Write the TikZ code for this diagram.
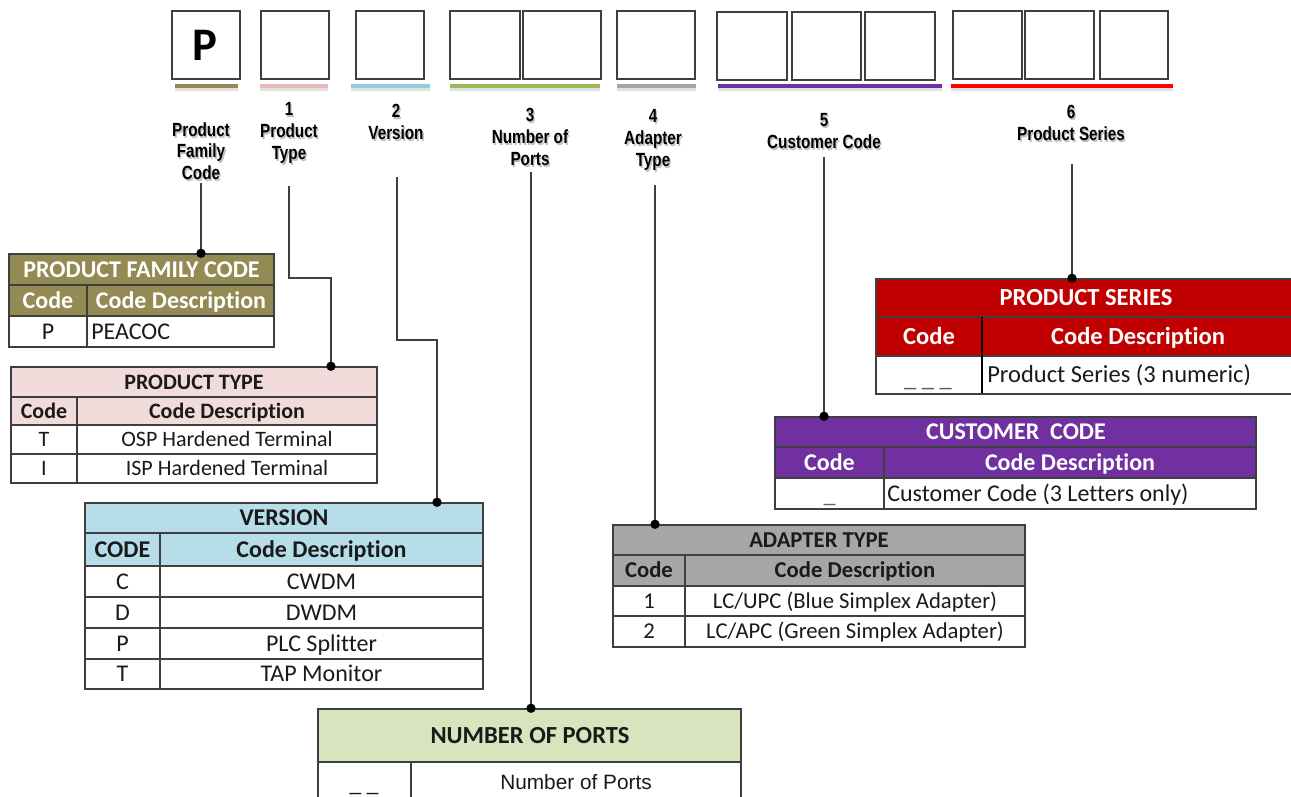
\documentclass[tikz,border=0pt]{standalone}
\usepackage{fontspec}
\setmainfont{Carlito}
\newfontfamily\tabfont[Ligatures=NoCommon]{Carlito}
\newfontfamily\labfont[FakeStretch=0.8]{Liberation Sans Bold}
\newfontfamily\arialfont{Liberation Sans}
\usetikzlibrary{fit}
\definecolor{hOlive}{HTML}{948A54}
\definecolor{hPink}{HTML}{F2DCDB}
\definecolor{hBlue}{HTML}{B7DEE8}
\definecolor{hGreen}{HTML}{D7E4BD}
\definecolor{hGrey}{HTML}{A6A6A6}
\definecolor{hPurple}{HTML}{7030A0}
\definecolor{hRed}{HTML}{C00000}
\definecolor{lOlive}{HTML}{948A54}
\definecolor{lPink}{HTML}{E6B9B8}
\definecolor{lBlue}{HTML}{92CDDC}
\definecolor{lGreen}{HTML}{9BBB59}
\definecolor{lGrey}{HTML}{A5A5A5}
\definecolor{lPurple}{HTML}{7030A0}
\definecolor{lRed}{HTML}{FF0000}
\definecolor{txt}{HTML}{1A1A1A}
\definecolor{frameC}{HTML}{3F3F3F}
\tikzset{
  sq/.style={draw=frameC, line width=1.5pt, inner sep=0pt},
  uline/.style={line width=3.2pt},
  ushadow/.style={line width=3.2pt, draw=black, opacity=0.12},
  lab/.style={font=\labfont\fontsize{14.3}{16.2}\selectfont, align=center, inner sep=0pt, text=black},
  labsh/.style={lab, text=black!45, opacity=0.55, xshift=1pt, yshift=-1.5pt},
  conn/.style={draw=frameC, line width=1.1pt},
  dotc/.style={fill=black},
  tframe/.style={draw=frameC, line width=1.1pt, inner sep=0pt},
  tline/.style={draw=frameC, line width=0.9pt},
  tb/.style 2 args={font=\tabfont\fontsize{#1}{#1}\selectfont, inner sep=0pt, text height=#2, text depth=0pt, text=txt},
  tbb/.style 2 args={tb={#1}{#2}, font=\tabfont\fontsize{#1}{#1}\selectfont\bfseries},
}
\begin{document}
\begin{tikzpicture}[x=0.75pt,y=-0.75pt]
\useasboundingbox (0,0) rectangle (1291,796);
\fill[white] (0,0) rectangle (1291,796);

% ---------- top code boxes ----------
\node[sq, fit={(172,11)(240,79)}] (c0) {};
\node[font=\tabfont\fontsize{35}{35}\selectfont\bfseries, inner sep=0pt] (cP) at (205,45) {P};
\node[sq, fit={(261,11)(329,79)}] (c1) {};
\node[sq, fit={(356,11)(424,79)}] (c2) {};
\node[sq, fit={(450,11)(520,79)}] (c3a) {};
\node[sq, fit={(523,11)(601,79)}] (c3b) {};
\node[sq, fit={(617,11)(695,79)}] (c4) {};
\node[sq, fit={(717,12)(787,80)}] (c5a) {};
\node[sq, fit={(792,12)(861,80)}] (c5b) {};
\node[sq, fit={(865,12)(935,80)}] (c5c) {};
\node[sq, fit={(953,11)(1022,79)}] (c6a) {};
\node[sq, fit={(1025,11)(1094,79)}] (c6b) {};
\node[sq, fit={(1100,11)(1168,79)}] (c6c) {};

% ---------- coloured underlines ----------
\foreach \a/\b/\c in {175/238/lOlive,260/328/lPink,351/430/lBlue,450/600/lGreen,617/696/lGrey,718/942/lPurple,951/1173/lRed}{
  \draw[ushadow] (\a,89) -- (\b,89);
  \draw[uline, draw=\c] (\a,86) -- (\b,86);
}

% ---------- labels ----------
\foreach \n/\x/\y/\t in {L0/201/151/{Product\\Family\\Code},
                         L1/289/133/{1\\Product\\Type},
                         L2/396/122/{2\\Version},
                         L3/530/137/{3\\Number of\\Ports},
                         L4/653/140/{4\\Adapter\\Type},
                         L5/824/131/{5\\Customer Code},
                         L6/1071/123/{6\\Product Series}}{
  \node[labsh] at (\x,\y) {\t};
  \node[lab] (\n) at (\x,\y) {\t};
}

% ---------- PRODUCT FAMILY CODE ----------
\fill[hOlive] (9,254) rectangle (274,316);
\draw[tline] (9,285) -- (274,285) (9,316) -- (274,316) (87,285) -- (87,347);
\node[tframe, fit={(9,254)(274,347)}] (pfc) {};
\node[tbb={18}{11.6pt}, text=white] at (141.5,269.5) {PRODUCT FAMILY CODE};
\node[tbb={18}{11.6pt}, text=white] at (48,300.5) {Code};
\node[tbb={18}{11.6pt}, text=white] at (181,300.5) {Code Description};
\node[tb={18}{11.6pt}] at (48,331.5) {P};
\node[tb={18}{11.6pt}, anchor=west] at (91,331.5) {PEACOC};

% ---------- PRODUCT TYPE ----------
\fill[hPink] (11,367) rectangle (377,425);
\draw[tline] (11,397) -- (377,397) (11,425) -- (377,425) (11,454) -- (377,454) (77,397) -- (77,483);
\node[tframe, fit={(11,367)(377,483)}] (pt) {};
\node[tbb={16.5}{10.6pt}] at (194,382) {PRODUCT TYPE};
\node[tbb={16.5}{10.6pt}] at (44,411) {Code};
\node[tbb={16.5}{10.6pt}] at (227,411) {Code Description};
\node[tb={16.5}{10.6pt}] at (44,439.5) {T};
\node[tb={16.5}{10.6pt}] at (227,439.5) {OSP Hardened Terminal};
\node[tb={16.5}{10.6pt}] at (44,468.5) {I};
\node[tb={16.5}{10.6pt}] at (227,468.5) {ISP Hardened Terminal};

% ---------- VERSION ----------
\fill[hBlue] (85,503) rectangle (483,566);
\draw[tline] (85,533) -- (483,533) (85,566) -- (483,566) (85,597) -- (483,597)
             (85,628) -- (483,628) (85,659) -- (483,659) (160,533) -- (160,689);
\node[tframe, fit={(85,503)(483,689)}] (ver) {};
\node[tbb={18}{11.6pt}] at (284,518) {VERSION};
\node[tbb={18}{11.6pt}] at (122.5,549.5) {CODE};
\node[tbb={18}{11.6pt}] at (321.5,549.5) {Code Description};
\foreach \y/\a/\b in {581.5/C/CWDM,612.5/D/DWDM,643.5/P/PLC Splitter,674/T/TAP Monitor}{
  \node[tb={18}{11.6pt}] at (122.5,\y) {\a};
  \node[tb={18}{11.6pt}] at (321.5,\y) {\b};
}

% ---------- NUMBER OF PORTS ----------
\fill[hGreen] (318,709) rectangle (741,762);
\draw[tline] (318,762) -- (741,762) (411,762) -- (411,830);
\node[tframe, fit={(318,709)(741,830)}] (nop) {};
\node[tbb={18.4}{11.9pt}] at (530,736) {NUMBER OF PORTS};
\node[font=\arialfont\fontsize{15.6}{15.6}\selectfont, inner sep=0pt, text height=11.2pt, text depth=0pt, text=txt] at (576,782) {Number of Ports};
\node[tb={18}{11.6pt}, anchor=base] at (364,791) {\_ \_};

% ---------- ADAPTER TYPE ----------
\fill[hGrey] (613,525) rectangle (1025,586);
\draw[tline] (613,555) -- (1025,555) (613,586) -- (1025,586) (613,616) -- (1025,616) (685,555) -- (685,647);
\node[tframe, fit={(613,525)(1025,647)}] (ad) {};
\node[tbb={17}{10.9pt}] at (819,540) {ADAPTER TYPE};
\node[tbb={17}{10.9pt}] at (649,570.5) {Code};
\node[tbb={17}{10.9pt}] at (855,570.5) {Code Description};
\node[tb={17}{10.9pt}] at (649,601) {1};
\node[tb={17}{10.9pt}] at (855,601) {LC/UPC (Blue Simplex Adapter)};
\node[tb={17}{10.9pt}] at (649,631.5) {2};
\node[tb={17}{10.9pt}] at (855,631.5) {LC/APC (Green Simplex Adapter)};

% ---------- CUSTOMER CODE ----------
\fill[hPurple] (775,417) rectangle (1256,478);
\draw[tline] (775,447) -- (1256,447) (775,478) -- (1256,478) (884,447) -- (884,509);
\node[tframe, fit={(775,417)(1256,509)}] (cc) {};
\node[tbb={18}{11.6pt}, text=white] at (1016,432) {CUSTOMER\ \ CODE};
\node[tbb={18}{11.6pt}, text=white] at (829.5,462.5) {Code};
\node[tbb={18}{11.6pt}, text=white] at (1070,462.5) {Code Description};
\node[tb={18}{11.6pt}, anchor=base, text=black!60] at (829.5,502) {\_};
\node[tb={18}{11.6pt}, anchor=west] at (887,493.5) {Customer Code (3 Letters only)};

% ---------- PRODUCT SERIES ----------
\fill[hRed] (876,279) rectangle (1295,356);
\draw[tline] (876,317) -- (1295,317) (876,356) -- (1295,356);
\draw[tline, line width=1.4pt, draw=black] (982,317) -- (982,394);
\node[tframe, fit={(876,279)(1295,394)}] (ps) {};
\node[tbb={18.4}{11.9pt}, text=white] at (1086,298) {PRODUCT SERIES};
\node[tbb={18.4}{11.9pt}, text=white] at (929,336.5) {Code};
\node[tbb={18.4}{11.9pt}, text=white] at (1138,336.5) {Code Description};
\node[tb={18.4}{11.9pt}, anchor=base, text=black!65] at (928,386) {\_ \_ \_};
\node[tb={18.4}{11.9pt}, anchor=west] at (987,375) {Product Series (3 numeric)};

% ---------- connectors ----------
\coordinate (s0) at (201,183);
\coordinate (s1) at (289,186);
\coordinate (b1) at (331,278);
\coordinate (s2) at (397,177);
\coordinate (b2) at (437,340);
\coordinate (s3) at (531,172);
\coordinate (s4) at (655,185);
\coordinate (s5) at (824,157);
\coordinate (s6) at (1072,164);

\draw[conn] (s0) -- (s0 |- pfc.north);
\fill[dotc] (s0 |- pfc.north) circle[radius=3.5pt];
\draw[conn] (s1) |- (b1) -- (b1 |- pt.north);
\fill[dotc] (b1 |- pt.north) circle[radius=3.5pt];
\draw[conn] (s2) |- (b2) -- (b2 |- ver.north);
\fill[dotc] (b2 |- ver.north) circle[radius=3.5pt];
\draw[conn] (s3) -- (s3 |- nop.north);
\fill[dotc] (s3 |- nop.north) circle[radius=3.5pt];
\draw[conn] (s4) -- (s4 |- ad.north);
\fill[dotc] (s4 |- ad.north) circle[radius=3.5pt];
\draw[conn] (s5) -- (s5 |- cc.north);
\fill[dotc] (s5 |- cc.north) circle[radius=3.5pt];
\draw[conn] (s6) -- (s6 |- ps.north);
\fill[dotc] (s6 |- ps.north) circle[radius=3.5pt];
\end{tikzpicture}
\end{document}
